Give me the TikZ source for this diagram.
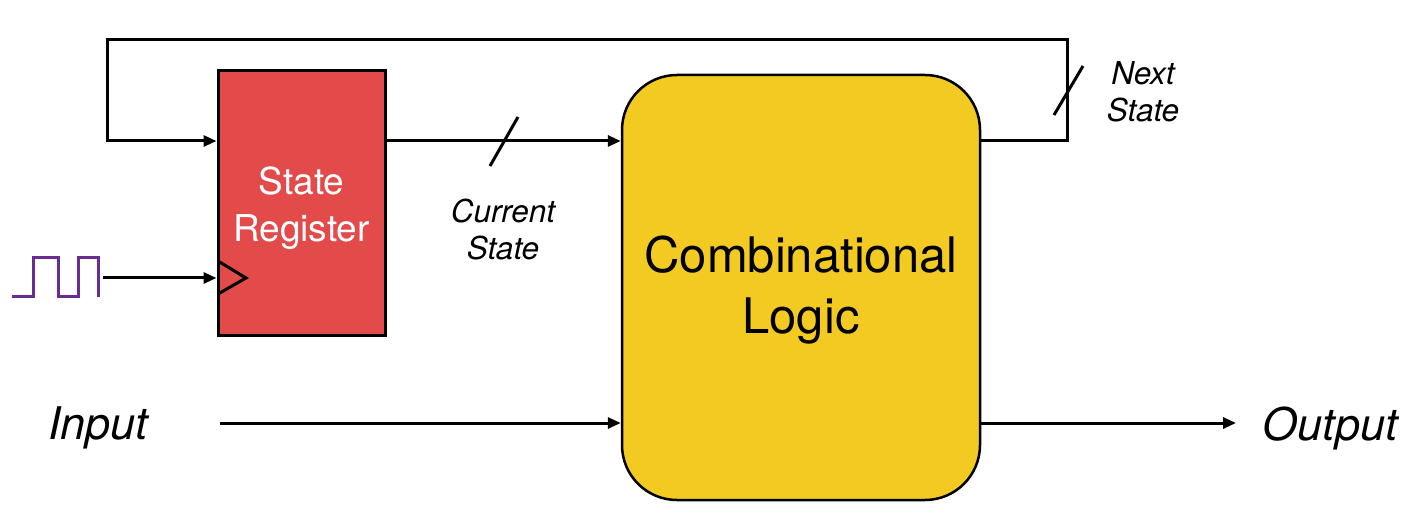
\documentclass[tikz,border=0pt]{standalone}
\usepackage{fontspec}
\setmainfont{TeX Gyre Heros}
\usetikzlibrary{arrows.meta,calc}
\definecolor{regred}{HTML}{E34A4A}
\definecolor{combyel}{HTML}{F2CA22}
\definecolor{clkpurple}{HTML}{6B2C91}
\tikzset{
  wire/.style={line width=3pt, line join=miter},
  arr/.style={wire, -{Triangle[length=13pt,width=11pt]}},
  regbox/.style={draw, line width=3pt, fill=regred, minimum width=167pt, minimum height=264pt, inner sep=0pt},
  regtext/.style={align=center, text=white, font=\fontsize{37}{47}\selectfont},
  combbox/.style={draw, line width=2.5pt, fill=combyel, rounded corners=55pt, minimum width=358pt, minimum height=425pt, inner sep=0pt},
  combtext/.style={align=center, font=\fontsize{49}{61}\selectfont},
  smalllab/.style={align=center, font=\itshape\fontsize{31.5}{37}\selectfont},
  biglab/.style={font=\itshape\fontsize{45}{54}\selectfont},
  slash/.style={line width=3pt},
}
\begin{document}
\begin{tikzpicture}[x=1pt,y=-1pt]
\useasboundingbox (0,0) rectangle (1420,526);
\node[regbox] (reg) at (301.5,203) {};
\node[regtext] (regt) at ([yshift=-5pt]reg.center) {State\\Register};
\node[combbox] (comb) at (801,287.5) {};
\node[combtext] (combt) at ([yshift=-3pt]comb.center) {Combinational\\Logic};
\coordinate (row) at (0,141);
\coordinate (irow) at (0,423);
% current state
\draw[arr] (reg.east |- row) -- (comb.west |- row);
\draw[slash] (490,166) -- (518,117);
\node[smalllab] (cs) at (503,230) {Current\\State};
% feedback
\coordinate (fbR) at (1067,141);
\coordinate (fbRT) at (1067,40);
\coordinate (fbLT) at (107,40);
\coordinate (fbL) at (107,141);
\draw[arr] (comb.east |- row) -- (fbR) -- (fbRT) -- (fbLT) -- (fbL) -- (reg.west |- row);
\draw[slash] (1054,115) -- (1083,66);
\node[smalllab] (ns) at (1143,92) {Next\\State};
% clock
\draw[line width=3pt, clkpurple, line join=miter] (12,297) -- (33,297) -- (33,258) -- (58,258) -- (58,297) -- (78,297) -- (78,258) -- (98,258) -- (98,297);
\coordinate (clk) at (103,278);
\draw[arr] (clk) -- (reg.west |- clk);
\draw[wire, line join=miter] (218,261) -- (246,278) -- (218,294);
% input / output
\node[biglab] (in) at (98,428) {Input};
\coordinate (inA) at (220,423);
\draw[arr] (inA) -- (comb.west |- irow);
\coordinate (outA) at (1236,423);
\draw[arr] (comb.east |- irow) -- (outA);
\node[biglab] (out) at (1330,428) {Output};
\end{tikzpicture}
\end{document}
